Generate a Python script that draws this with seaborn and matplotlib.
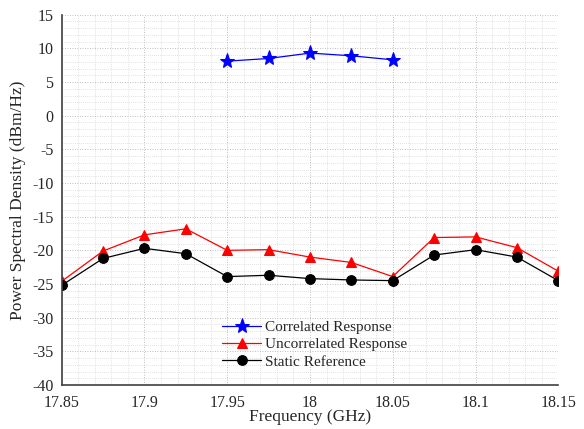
import matplotlib
matplotlib.use("Agg")
import matplotlib.pyplot as plt
import seaborn as sns
import pandas as pd
import numpy as np
from matplotlib.ticker import MultipleLocator

sns.set_style("white")
plt.rcParams['font.family'] = ['Liberation Serif', 'DejaVu Serif']
plt.rcParams['axes.unicode_minus'] = False

freq_corr = [17.95, 17.975, 18.0, 18.025, 18.05]
corr = [8.1, 8.5, 9.3, 8.9, 8.3]

freq_all = [17.85, 17.875, 17.9, 17.925, 17.95, 17.975, 18.0, 18.025, 18.05,
            18.075, 18.1, 18.125, 18.15]
uncorr = [-24.6, -20.1, -17.7, -16.8, -20.0, -19.9, -21.0, -21.8, -23.9,
          -18.1, -18.0, -19.6, -23.1]
static = [-25.2, -21.2, -19.7, -20.5, -23.9, -23.7, -24.2, -24.4, -24.5,
          -20.7, -19.9, -21.0, -24.5]

labels = ["Correlated Response", "Uncorrelated Response", "Static Reference"]
xticks = [17.85, 17.9, 17.95, 18.0, 18.05, 18.1, 18.15]
xticklabels = ["17.85", "17.9", "17.95", "18", "18.05", "18.1", "18.15"]
yticks = list(range(-40, 16, 5))

df_c = pd.DataFrame({"f": freq_corr, "v": corr})
df_u = pd.DataFrame({"f": freq_all, "v": uncorr})
df_s = pd.DataFrame({"f": freq_all, "v": static})

fig = plt.figure(figsize=(5.84, 4.29), dpi=100)
ax = fig.add_axes([0.1056, 0.1026, 0.8504, 0.8631])

sns.lineplot(data=df_c, x="f", y="v", ax=ax, color="blue", marker="*",
             markersize=11, linewidth=0.9, markeredgecolor="blue", label=labels[0])
sns.lineplot(data=df_u, x="f", y="v", ax=ax, color="red", marker="^",
             markersize=7, linewidth=0.9, markeredgecolor="red", label=labels[1])
sns.lineplot(data=df_s, x="f", y="v", ax=ax, color="black", marker="o",
             markersize=7, linewidth=0.9, markeredgecolor="black", label=labels[2])

ax.set_xlim(17.85, 18.15)
ax.set_ylim(-40, 15)
ax.set_xticks(xticks)
ax.set_xticklabels(xticklabels)
ax.set_yticks(yticks)
ax.set_yticklabels([str(v) for v in yticks])
ax.xaxis.set_minor_locator(MultipleLocator(0.01))
ax.yaxis.set_minor_locator(MultipleLocator(1))
ax.grid(which="major", color="#a8a8a8", linestyle=(0, (1, 2)), linewidth=0.6)
ax.grid(which="minor", color="#c8c8c8", linestyle=(0, (1, 2)), linewidth=0.5)
ax.set_axisbelow(True)

for s in ["top", "right"]:
    ax.spines[s].set_visible(False)
for s in ["left", "bottom"]:
    ax.spines[s].set_color("#404040")
    ax.spines[s].set_linewidth(1.2)

ax.tick_params(which="major", direction="in", length=4, width=0.8,
               colors="#262626", labelsize=11.5, labelcolor="#262626")
ax.tick_params(axis="x", which="major", pad=7)
ax.tick_params(axis="y", which="major", pad=6)
ax.tick_params(which="minor", length=0)

ax.set_xlabel("Frequency (GHz)", fontsize=12.5, color="#262626", labelpad=-1)
ax.set_ylabel("Power Spectral Density (dBm/Hz)", fontsize=12.5, color="#262626", labelpad=4)

leg = ax.legend(loc="upper left", bbox_to_anchor=(0.31, 0.19), frameon=False,
                fontsize=11, handlelength=2.6, labelspacing=0.22, borderaxespad=0,
                handletextpad=0.25)
for t in leg.get_texts():
    t.set_color("#262626")

fig.savefig("out.png", dpi=100)
